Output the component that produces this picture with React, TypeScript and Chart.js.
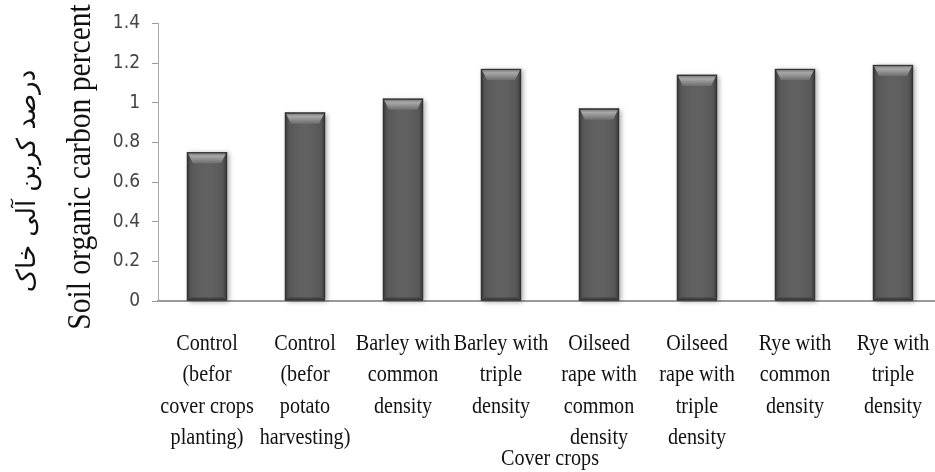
import React, { useEffect, useRef } from "react";
import { Chart, registerables } from "chart.js";

Chart.register(...registerables);

// Treatments (multi-line category labels)
const treatments: string[][] = [
  ["Control", "(befor", "cover crops", "planting)"],
  ["Control", "(befor", "potato", "harvesting)"],
  ["Barley with", "common", "density"],
  ["Barley with", "triple", "density"],
  ["Oilseed", "rape with", "common", "density"],
  ["Oilseed", "rape with", "triple", "density"],
  ["Rye with", "common", "density"],
  ["Rye with", "triple", "density"],
];

// Soil organic carbon (%)
const organicCarbon: number[] = [0.75, 0.95, 1.02, 1.17, 0.97, 1.14, 1.17, 1.19];

const yTickLabels: string[] = ["0", "0.2", "0.4", "0.6", "0.8", "1", "1.2", "1.4"];

const yTitlePersian = "درصد کربن آلی خاک";
const yTitleEnglish = "Soil organic carbon percent";
const xTitle = "Cover crops";

const SERIF = "'Liberation Serif', 'Times New Roman', serif";
const TEXT_COLOR = "#111111";

// Soft drop shadow behind each bar, then bevelled shading over the fill
const barShadingPlugin = {
  id: "barShading",
  beforeDatasetsDraw(chart: any) {
    const ctx = chart.ctx as CanvasRenderingContext2D;
    const meta = chart.getDatasetMeta(0);
    ctx.save();
    ctx.shadowColor = "rgba(0,0,0,0.35)";
    ctx.shadowBlur = 5;
    ctx.shadowOffsetX = 2;
    ctx.shadowOffsetY = 1;
    ctx.fillStyle = "#5c5c5c";
    meta.data.forEach((bar: any) => {
      const { x, y, base, width } = bar.getProps(["x", "y", "base", "width"], true);
      ctx.fillRect(x - width / 2, y, width, base - y);
    });
    ctx.restore();
  },
  afterDatasetsDraw(chart: any) {
    const ctx = chart.ctx as CanvasRenderingContext2D;
    const meta = chart.getDatasetMeta(0);
    ctx.save();
    meta.data.forEach((bar: any) => {
      const { x, y, base, width } = bar.getProps(["x", "y", "base", "width"], true);
      const l = x - width / 2;
      const r = x + width / 2;
      const h = base - y;

      const side = ctx.createLinearGradient(l, 0, r, 0);
      side.addColorStop(0, "rgba(30,30,30,0.75)");
      side.addColorStop(0.1, "rgba(60,60,60,0.25)");
      side.addColorStop(0.5, "rgba(120,120,120,0.08)");
      side.addColorStop(0.9, "rgba(60,60,60,0.25)");
      side.addColorStop(1, "rgba(30,30,30,0.75)");
      ctx.fillStyle = side;
      ctx.fillRect(l, y, width, h);

      const bx = 6;
      const by = Math.min(11, h / 2);
      const topGrad = ctx.createLinearGradient(0, y, 0, y + by);
      topGrad.addColorStop(0, "#707070");
      topGrad.addColorStop(0.35, "#a8a8a8");
      topGrad.addColorStop(1, "#6e6e6e");
      ctx.fillStyle = topGrad;
      ctx.beginPath();
      ctx.moveTo(l + 1, y + 1);
      ctx.lineTo(r - 1, y + 1);
      ctx.lineTo(r - bx, y + by);
      ctx.lineTo(l + bx, y + by);
      ctx.closePath();
      ctx.fill();

      ctx.fillStyle = "rgba(40,40,40,0.5)";
      ctx.beginPath();
      ctx.moveTo(l + 1, base);
      ctx.lineTo(r - 1, base);
      ctx.lineTo(r - 4, base - 3);
      ctx.lineTo(l + 4, base - 3);
      ctx.closePath();
      ctx.fill();

      ctx.strokeStyle = "#333333";
      ctx.lineWidth = 1;
      ctx.strokeRect(l + 0.5, y + 0.5, width - 1, h - 1);
    });
    ctx.restore();
  },
};

// Narrow serif category labels and axis titles
const axisTextPlugin = {
  id: "axisText",
  afterDraw(chart: any) {
    const ctx = chart.ctx as CanvasRenderingContext2D;
    const xs = chart.scales.x;
    ctx.save();
    ctx.fillStyle = TEXT_COLOR;
    ctx.textAlign = "center";
    ctx.textBaseline = "alphabetic";
    ctx.font = `24px ${SERIF}`;

    treatments.forEach((lines, i) => {
      const cx = xs.getPixelForTick(i);
      lines.forEach((line, j) => {
        ctx.save();
        ctx.translate(cx, xs.top + 49 + j * 31.3);
        ctx.scale(0.84, 1);
        ctx.fillText(line, 0, 0);
        ctx.restore();
      });
    });

    // x axis title
    ctx.save();
    ctx.translate((xs.left + xs.right) / 2, xs.top + 164);
    ctx.scale(0.84, 1);
    ctx.fillText(xTitle, 0, 0);
    ctx.restore();

    // y axis title, Persian line
    ctx.save();
    ctx.translate(35, 181);
    ctx.rotate(-Math.PI / 2);
    ctx.font = "26px 'DejaVu Sans', sans-serif";
    ctx.fillText(yTitlePersian, 0, 0);
    ctx.restore();

    // y axis title, English line
    ctx.save();
    ctx.translate(90, 167);
    ctx.rotate(-Math.PI / 2);
    ctx.scale(0.87, 1);
    ctx.font = `34px ${SERIF}`;
    ctx.fillText(yTitleEnglish, 0, 0);
    ctx.restore();

    ctx.restore();
  },
};

export default function App() {
  const canvasRef = useRef<HTMLCanvasElement | null>(null);

  useEffect(() => {
    if (!canvasRef.current) return;
    const chart = new Chart(canvasRef.current, {
      type: "bar",
      data: {
        labels: treatments,
        datasets: [
          {
            data: organicCarbon,
            backgroundColor: "#5f5f5f",
            borderWidth: 0,
            barThickness: 40,
          },
        ],
      },
      options: {
        animation: false,
        responsive: true,
        maintainAspectRatio: false,
        layout: { padding: { top: 21, right: 1, left: 0, bottom: 0 } },
        plugins: {
          legend: { display: false },
          tooltip: { enabled: false },
        },
        scales: {
          x: {
            grid: { display: false },
            border: { display: true, color: "#9a9a9a", width: 2 },
            ticks: { display: false },
            afterFit(scale: any) {
              scale.height = 171;
            },
          },
          y: {
            min: 0,
            max: 1.4,
            ticks: {
              stepSize: 0.2,
              padding: 12,
              color: "#444444",
              font: { family: "'DejaVu Sans Condensed', 'Liberation Sans', sans-serif", size: 19 },
              callback: (_v: any, i: number) => yTickLabels[i],
            },
            grid: {
              display: true,
              drawOnChartArea: false,
              drawTicks: true,
              tickLength: 6,
              color: "#9a9a9a",
            },
            border: { display: true, color: "#aaaaaa", width: 1 },
            afterFit(scale: any) {
              scale.width = 158;
            },
          },
        },
      },
      plugins: [barShadingPlugin, axisTextPlugin],
    });
    return () => chart.destroy();
  }, []);

  // The plot runs slightly past the right edge of the visible frame
  return (
    <div
      style={{
        position: "absolute",
        left: 0,
        top: 0,
        width: 935,
        height: 472,
        overflow: "hidden",
        background: "#ffffff",
      }}
    >
      <div style={{ position: "relative", width: 943, height: 472 }}>
        <canvas ref={canvasRef} />
      </div>
    </div>
  );
}
